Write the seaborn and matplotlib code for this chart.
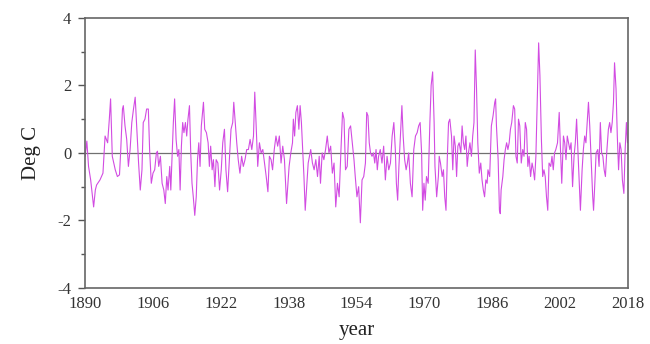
import matplotlib
matplotlib.use('Agg')
import matplotlib.pyplot as plt
import pandas as pd
import seaborn as sns
from matplotlib.ticker import MultipleLocator

# values (decimal year, anomaly in deg C)
years = [
    1890.0, 1890.4, 1890.8, 1891.3, 1892.0, 1892.4, 1892.7, 1893.5, 1894.2, 1894.7,
    1895.3, 1895.7, 1896.0, 1896.4, 1897.1, 1897.6, 1898.1, 1898.4, 1898.8, 1899.0,
    1899.4, 1899.8, 1900.2, 1900.6, 1901.0, 1901.4, 1901.8, 1902.2, 1902.6, 1903.0,
    1903.4, 1903.7, 1904.1, 1904.5,
    1904.9, 1905.2, 1905.6, 1906.0, 1906.4, 1906.8, 1907.05, 1907.35, 1907.75, 1908.15,
    1908.55, 1908.9, 1909.25, 1909.55, 1909.95, 1910.2, 1910.5, 1910.8, 1911.1, 1911.45,
    1911.8, 1912.1, 1912.4, 1912.7, 1913.0, 1913.3, 1913.65, 1913.95, 1914.25, 1914.6,
    1914.9, 1915.2, 1915.5, 1915.85, 1916.2, 1916.5, 1916.8, 1917.1, 1917.4, 1917.9,
    1918.2, 1918.6, 1919.0, 1919.3, 1919.6, 1919.95, 1920.25, 1920.6,
    1920.9, 1921.3, 1921.7, 1922.1, 1922.45, 1922.85, 1923.2, 1923.6, 1924.0, 1924.4,
    1924.8, 1925.05, 1925.4, 1925.75, 1926.1, 1926.5, 1926.9, 1927.3, 1927.7, 1928.1,
    1928.5, 1928.9, 1929.3, 1929.7, 1930.0, 1930.3, 1930.7, 1931.1, 1931.5, 1931.9,
    1932.3, 1932.7, 1933.1, 1933.45, 1933.85, 1934.2, 1934.6, 1935.0, 1935.4, 1935.8,
    1936.2, 1936.6,
    1937.0, 1937.5, 1938.1, 1938.5, 1938.9, 1939.1, 1939.4, 1939.7, 1940.05, 1940.4,
    1940.7, 1941.0, 1941.3, 1941.6, 1941.9, 1942.25, 1942.6, 1942.9, 1943.2, 1943.6,
    1944.0, 1944.4, 1944.8, 1945.2, 1945.5, 1945.9, 1946.3, 1946.7, 1947.1, 1947.5,
    1947.9, 1948.3, 1948.7, 1949.1, 1949.5, 1949.9, 1950.3, 1950.7, 1951.05, 1951.4,
    1951.8, 1952.2, 1952.6,
    1953.0, 1953.4, 1953.7, 1954.1, 1954.5, 1954.9, 1955.3, 1955.7, 1956.1, 1956.4,
    1956.7, 1957.0, 1957.3, 1957.65, 1958.0, 1958.3, 1958.6, 1958.9, 1959.2, 1959.6,
    1960.0, 1960.4, 1960.8, 1961.2, 1961.6, 1962.0, 1962.4, 1962.8, 1963.15, 1963.4,
    1963.7, 1964.0, 1964.4, 1964.7, 1965.0, 1965.35, 1965.7, 1966.0, 1966.3, 1966.7,
    1967.1, 1967.5, 1967.9, 1968.3, 1968.65,
    1969.0, 1969.35, 1969.6, 1969.9, 1970.2, 1970.5, 1970.9, 1971.3, 1971.6, 1971.95,
    1972.3, 1972.5, 1972.9, 1973.3, 1973.5, 1973.8, 1974.2, 1974.5, 1974.8, 1975.1,
    1975.4, 1975.7, 1976.0, 1976.4, 1976.7, 1977.0, 1977.3, 1977.6, 1977.9, 1978.2,
    1978.6, 1978.9, 1979.2, 1979.5, 1979.8, 1980.1, 1980.4, 1980.75, 1981.1, 1981.4,
    1981.7, 1982.0, 1982.3, 1982.6, 1982.95, 1983.3, 1983.6, 1983.9, 1984.2, 1984.5,
    1984.8,
    1985.0, 1985.4, 1985.8, 1986.2, 1986.6, 1986.8, 1987.0, 1987.4, 1987.7, 1987.9,
    1988.1, 1988.5, 1988.8, 1989.1, 1989.4, 1989.7, 1990.0, 1990.3, 1990.6, 1991.0,
    1991.3, 1991.6, 1991.9, 1992.2, 1992.5, 1992.85, 1993.2, 1993.5, 1993.8, 1994.1,
    1994.4, 1994.7, 1995.05, 1995.4, 1995.7, 1996.0, 1996.3, 1996.6, 1996.95, 1997.25,
    1997.6, 1997.9, 1998.2, 1998.5, 1998.8, 1999.1, 1999.4, 1999.8, 2000.1, 2000.4,
    2000.7,
    2001.0, 2001.4, 2001.8, 2002.1, 2002.4, 2002.8, 2003.1, 2003.4, 2003.7, 2004.0,
    2004.3, 2004.6, 2004.95, 2005.3, 2005.6, 2005.9, 2006.2, 2006.5, 2006.8, 2007.2,
    2007.5, 2007.8, 2008.1, 2008.4, 2008.7, 2009.0, 2009.4, 2009.7, 2009.9, 2010.2,
    2010.5, 2010.9, 2011.2, 2011.5, 2011.8, 2012.1, 2012.4, 2012.7, 2013.0, 2013.4,
    2013.7, 2014.0, 2014.3, 2014.6, 2014.85, 2015.2, 2015.5, 2015.8, 2016.1, 2016.4,
    2016.7, 2017.05, 2017.35, 2017.65, 2017.9,
]

anomaly = [
    -0.1, 0.35, -0.4, -0.8, -1.6, -1.1, -0.95, -0.8, -0.6, 0.5,
    0.3, 1.0, 1.6, -0.1, -0.5, -0.7, -0.65, 0.1, 1.3, 1.4,
    0.8, 0.4, -0.4, 0.1, 0.9, 1.3, 1.65, 0.7, -0.3, -1.1,
    -0.5, 0.9, 1.0, 1.3,
    1.3, 0.1, -0.9, -0.6, -0.5, 0.0, 0.05, -0.4, -0.1, -0.9,
    -1.1, -1.5, -0.7, -1.1, -0.4, -1.1, -0.1, 0.9, 1.6, 0.4,
    -0.1, 0.1, -1.1, 0.2, 0.9, 0.6, 0.9, 0.5, 1.0, 1.4,
    0.0, -0.9, -1.3, -1.85, -1.3, -0.2, 0.3, -0.4, 0.8, 1.5,
    0.7, 0.6, 0.3, -0.4, 0.2, -0.5, -0.2, -1.0,
    -0.2, -0.3, -1.1, -0.5, 0.3, 0.7, -0.5, -1.15, -0.2, 0.7,
    0.9, 1.5, 0.9, 0.3, -0.2, -0.6, -0.1, -0.4, -0.2, 0.1,
    0.1, 0.4, 0.1, 0.5, 1.8, 0.9, -0.4, 0.3, 0.0, 0.1,
    -0.3, -0.7, -1.15, -0.1, -0.2, -0.5, 0.1, 0.5, 0.2, 0.5,
    -0.3, 0.2,
    -0.2, -1.5, -0.4, 0.0, 0.3, 1.0, 0.5, 1.2, 1.4, 0.7,
    1.4, 0.9, 0.1, -0.7, -1.7, -1.0, -0.3, -0.1, 0.1, -0.3,
    -0.5, -0.2, -0.7, -0.1, -0.9, 0.0, -0.2, 0.1, 0.5, 0.0,
    0.2, -0.6, -0.3, -1.6, -0.9, -1.3, 0.0, 1.2, 1.0, -0.5,
    -0.4, 0.7, 0.8,
    0.3, -0.2, -0.7, -1.3, -1.0, -2.07, -0.8, -0.7, -0.3, 1.2,
    1.1, 0.3, 0.0, -0.1, 0.0, -0.3, 0.1, -0.5, -0.1, 0.1,
    -0.3, 0.2, -0.8, -0.1, -0.5, -0.3, 0.5, 0.9, 0.1, -0.9,
    -1.4, -0.4, 0.6, 1.4, 0.5, -0.2, -0.5, -0.3, 0.0, -0.9,
    -1.3, 0.1, 0.5, 0.6, 0.8,
    0.9, 0.0, -1.7, -0.9, -1.4, -0.7, -0.9, 0.9, 2.0, 2.4,
    0.9, -0.4, -1.3, -0.7, -0.1, -0.3, -0.7, -0.5, -1.3, -1.7,
    -0.2, 0.9, 1.0, 0.5, -0.5, 0.5, 0.2, -0.7, 0.2, 0.3,
    0.0, 0.8, 0.3, 0.1, 0.5, -0.4, 0.0, 0.3, -0.1, 0.5,
    0.9, 3.05, 1.9, 0.3, -0.6, -0.3, -0.8, -1.1, -1.3, -0.8,
    -0.9,
    -0.5, -0.7, 0.8, 1.1, 1.5, 1.6, 0.8, -0.2, -1.7, -1.8,
    -1.1, -0.7, -0.2, 0.1, 0.3, 0.1, 0.3, 0.7, 0.9, 1.4,
    1.3, -0.1, -0.3, 1.0, 0.8, -0.3, 0.1, -0.1, 0.9, 0.7,
    -0.4, -0.1, -0.7, -0.3, -0.5, -0.8, -0.1, 1.5, 3.26, 2.3,
    0.4, -0.7, -0.5, -0.7, -1.3, -1.7, -0.3, -0.4, -0.1, -0.5,
    0.0,
    0.1, 0.3, 1.2, 0.1, -0.9, 0.5, 0.3, -0.2, 0.5, 0.3,
    0.1, 0.3, -1.0, -0.1, 0.3, 1.0, 0.1, -0.8, -1.7, -0.5,
    0.1, 0.5, 0.3, 0.9, 1.5, 0.8, -0.4, -1.3, -1.7, -0.9,
    0.0, 0.1, -0.4, 0.9, 0.0, -0.1, -0.5, -0.7, 0.0, 0.7,
    0.9, 0.6, 0.9, 1.5, 2.67, 1.9, 0.5, -0.5, 0.3, 0.1,
    -0.8, -1.2, 0.1, 0.9, 0.3,
]

year_ticks = [1890, 1906, 1922, 1938, 1954, 1970, 1986, 2002, 2018]

df = pd.DataFrame({'year': years, 'anomaly': anomaly})

sns.set_style('ticks')
plt.rcParams['font.family'] = ['Liberation Serif', 'DejaVu Serif']
plt.rcParams['axes.unicode_minus'] = False

fig = plt.figure(figsize=(6.5, 3.44), dpi=100)
ax = fig.add_axes([0.131, 0.163, 0.835, 0.785])

ax.axhline(0, color='#707070', linewidth=0.9, zorder=1)
sns.lineplot(data=df, x='year', y='anomaly', ax=ax, color='#d24ce2',
             linewidth=0.8, zorder=2)

ax.set_xlim(1890, 2018)
ax.set_ylim(-4, 4)
ax.set_xticks(year_ticks)
ax.set_yticks([-4, -2, 0, 2, 4])
ax.yaxis.set_minor_locator(MultipleLocator(1))
ax.tick_params(axis='y', which='major', length=5, width=1, color='#555555',
               labelsize=12, labelcolor='#333333', pad=5)
ax.tick_params(axis='y', which='minor', length=3, width=1, color='#555555')
ax.tick_params(axis='x', length=0, labelsize=12, labelcolor='#333333', pad=6)

for side in ax.spines.values():
    side.set_color('#666666')
    side.set_linewidth(1.2)

ax.set_xlabel('year', fontsize=15, color='#222222', labelpad=6)
ax.set_ylabel('Deg C', fontsize=15, color='#222222', labelpad=12)

fig.savefig('out.png', dpi=100, facecolor='white')
